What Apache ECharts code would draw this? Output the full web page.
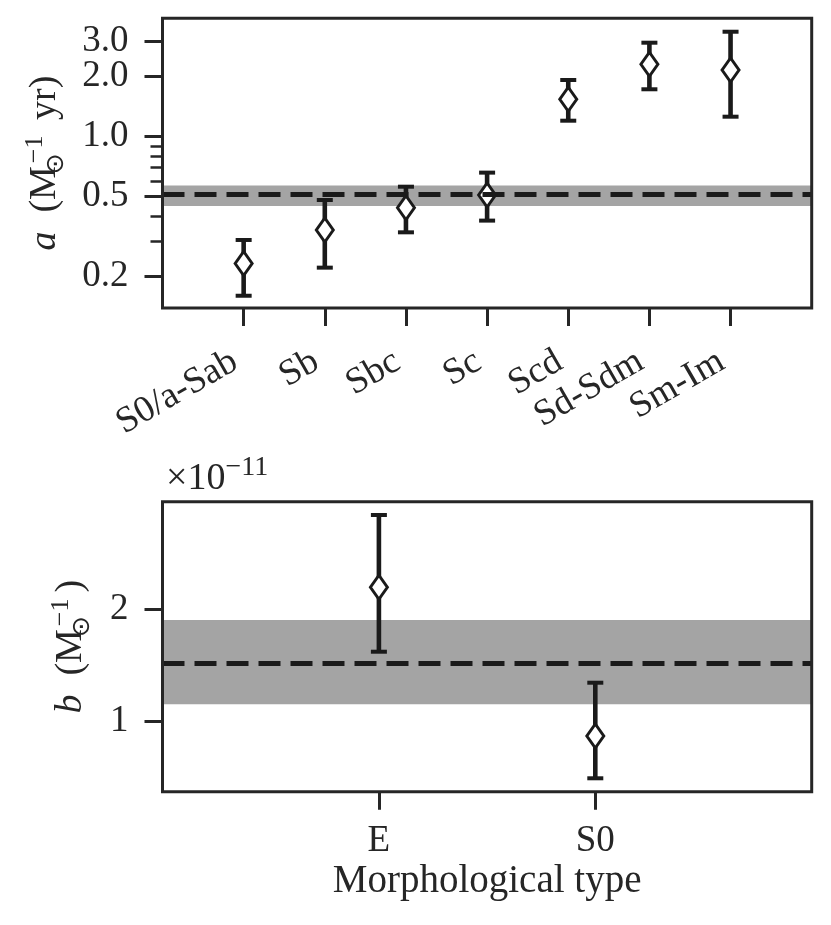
<!DOCTYPE html>
<html><head><meta charset="utf-8">
<script src="https://cdn.jsdelivr.net/npm/echarts@6/dist/echarts.min.js"></script>
<style>html,body{margin:0;padding:0;background:#fff}#c{width:831px;height:925px}</style>
</head><body><div id="c"></div>
<script>
// ---- top panel data (a, log scale) ----
const topCategories = ['S0/a-Sab', 'Sb', 'Sbc', 'Sc', 'Scd', 'Sd-Sdm', 'Sm-Im'];
const topValues = [0.231, 0.340, 0.440, 0.510, 1.54, 2.31, 2.16];
const topLower = [0.159, 0.220, 0.331, 0.379, 1.203, 1.730, 1.260];
const topUpper = [0.303, 0.481, 0.561, 0.660, 1.926, 2.964, 3.365];
const topBand = [0.449, 0.568];
const topLine = 0.514;
const topTickValues = [0.2, 0.5, 1, 2, 3];
const topTickLabels = ['0.2', '0.5', '1.0', '2.0', '3.0'];
const topMinorTicks = [0.3, 0.4, 0.6, 0.7, 0.8, 0.9];
const topRange = [0.138, 3.93];

// ---- bottom panel data (b, units of 1e-11) ----
const bottomCategories = ['E', 'S0'];
const bottomValues = [2.193, 0.873];
const bottomLower = [1.621, 0.498];
const bottomUpper = [2.834, 1.346];
const bottomBand = [1.154, 1.902];
const bottomLine = 1.518;
const bottomTickValues = [1, 2];
const bottomTickLabels = ['1', '2'];
const bottomRange = [0.379, 2.952];

const L = Math.log10;
const FONT = '"Liberation Serif", "DejaVu Serif", serif';
const TXT = '#262626';
const INK = '#1a1a1a';
const FS = 37;

const nameRich = {
  i: { fontFamily: FONT, fontSize: 38, fontStyle: 'italic', color: TXT, lineHeight: 46, verticalAlign: 'middle' },
  n: { fontFamily: FONT, fontSize: 38, color: TXT, lineHeight: 46, verticalAlign: 'middle' },
  sub: { fontFamily: '"DejaVu Sans", sans-serif', fontSize: 25, color: TXT, lineHeight: 22, verticalAlign: 'bottom', width: 1, align: 'left', padding: [0, 0, 0, 2] },
  sup: { fontFamily: FONT, fontSize: 26, color: TXT, lineHeight: 25, verticalAlign: 'top', padding: [0, 6, 0, 0] }
};

function errRender(params, api) {
  const x = api.value(0), lo = api.value(1), hi = api.value(2);
  const a = api.coord([x, lo]), b = api.coord([x, hi]);
  const cap = 8;
  const st = { stroke: INK, lineWidth: 4.6 };
  const st2 = { stroke: INK, lineWidth: 4 };
  return { type: 'group', children: [
    { type: 'line', shape: { x1: a[0], y1: a[1], x2: b[0], y2: b[1] }, style: st },
    { type: 'line', shape: { x1: a[0] - cap, y1: a[1], x2: a[0] + cap, y2: a[1] }, style: st2 },
    { type: 'line', shape: { x1: b[0] - cap, y1: b[1], x2: b[0] + cap, y2: b[1] }, style: st2 }
  ] };
}

const tickStyle = { show: true, length: 18, lineStyle: { color: TXT, width: 3 } };
const labelBase = { fontFamily: FONT, fontSize: FS, color: TXT, hideOverlap: false, lineHeight: 28, showMinLabel: true, showMaxLabel: true };
const noLine = { show: false, onZero: false };

function topLabel(v) {
  const i = topTickValues.findIndex(t => Math.abs(L(t) - v) < 1e-6);
  return i >= 0 ? topTickLabels[i] : '';
}
// split the major ticks over two overlapping axes so that close labels are never dropped
function majorAxis(parity) {
  const vals = topTickValues.filter((t, i) => i % 2 === parity).map(L);
  return { type: 'value', gridIndex: 0, min: L(topRange[0]), max: L(topRange[1]), position: 'left', offset: 0,
    axisLine: noLine, splitLine: { show: false },
    axisTick: Object.assign({ customValues: vals }, tickStyle),
    axisLabel: Object.assign({}, labelBase, { customValues: vals, margin: 34, formatter: topLabel }) };
}

const yTopMain = majorAxis(0);
yTopMain.name = '{i|a}{n|  (M}{sub|⊙}{sup|−1}{n| yr)}';
yTopMain.nameLocation = 'middle';
yTopMain.nameRotate = 90;
yTopMain.nameGap = 94;
yTopMain.nameTextStyle = { rich: nameRich };

const option = {
  animation: false,
  textStyle: { fontFamily: FONT },
  grid: [
    { left: 162.5, top: 18.3, width: 649.2, height: 289.7, show: true, borderColor: TXT, borderWidth: 3, backgroundColor: 'transparent', z: 10 },
    { left: 162.5, top: 501.7, width: 649.2, height: 290, show: true, borderColor: TXT, borderWidth: 3, backgroundColor: 'transparent', z: 10 }
  ],
  xAxis: [
    { type: 'value', gridIndex: 0, min: -1, max: 7, position: 'bottom',
      axisLine: noLine, splitLine: { show: false },
      axisTick: Object.assign({ customValues: topCategories.map((c, i) => i) }, tickStyle),
      axisLabel: Object.assign({}, labelBase, { customValues: topCategories.map((c, i) => i), rotate: 30, margin: 46,
        padding: [0, 10, 0, 0], lineHeight: 40,
        formatter: v => topCategories[Math.round(v)] }) },
    { type: 'value', gridIndex: 1, min: -1, max: 2, position: 'bottom',
      axisLine: noLine, splitLine: { show: false },
      axisTick: Object.assign({ customValues: bottomCategories.map((c, i) => i) }, tickStyle),
      axisLabel: Object.assign({}, labelBase, { customValues: bottomCategories.map((c, i) => i), margin: 30, lineHeight: 40,
        formatter: v => bottomCategories[Math.round(v)] }),
      name: 'Morphological type', nameLocation: 'middle', nameGap: 70,
      nameTextStyle: { fontFamily: FONT, fontSize: 39, color: TXT } }
  ],
  yAxis: [
    yTopMain,
    majorAxis(1),
    { type: 'value', gridIndex: 0, min: L(topRange[0]), max: L(topRange[1]), position: 'left', offset: 0,
      axisLine: noLine, splitLine: { show: false }, axisLabel: { show: false },
      axisTick: { show: true, length: 12, customValues: topMinorTicks.map(L), lineStyle: { color: TXT, width: 2.5 } } },
    { type: 'value', gridIndex: 1, min: bottomRange[0], max: bottomRange[1], position: 'left',
      axisLine: noLine, splitLine: { show: false },
      axisTick: Object.assign({ customValues: bottomTickValues }, tickStyle),
      axisLabel: Object.assign({}, labelBase, { customValues: bottomTickValues, margin: 34,
        formatter: v => { const i = bottomTickValues.indexOf(Math.round(v)); return i >= 0 ? bottomTickLabels[i] : ''; } }),
      name: '{i|b}{n|  (M}{sub|⊙}{sup|−1}{n|)}', nameLocation: 'middle', nameRotate: 90, nameGap: 68,
      nameTextStyle: { rich: nameRich } }
  ],
  graphic: [
    { type: 'text', left: 166, top: 454, z: 20, style: { text: '{m|×10}{s|−11}', rich: {
      m: { fontFamily: FONT, fontSize: 38, fill: TXT, lineHeight: 44, verticalAlign: 'bottom' },
      s: { fontFamily: FONT, fontSize: 28, fill: TXT, lineHeight: 28, verticalAlign: 'top' } } } }
  ],
  series: [
    // top panel
    { type: 'line', xAxisIndex: 0, yAxisIndex: 0, data: [], z: 1, silent: true,
      markArea: { silent: true, itemStyle: { color: '#a4a4a4', opacity: 1 },
        data: [[{ yAxis: L(topBand[0]) }, { yAxis: L(topBand[1]) }]] } },
    { type: 'line', xAxisIndex: 0, yAxisIndex: 0, data: [], z: 2, silent: true,
      markLine: { silent: true, symbol: ['none', 'none'], label: { show: false },
        lineStyle: { color: INK, width: 5, type: [22, 10] }, data: [{ yAxis: L(topLine) }] } },
    { type: 'custom', xAxisIndex: 0, yAxisIndex: 0, z: 3, silent: true, renderItem: errRender,
      encode: { x: 0, y: [1, 2] },
      data: topLower.map((lo, i) => [i, L(lo), L(topUpper[i])]) },
    { type: 'scatter', xAxisIndex: 0, yAxisIndex: 0, z: 4, silent: true,
      symbol: 'diamond', symbolSize: [17, 24],
      itemStyle: { color: '#ffffff', borderColor: INK, borderWidth: 3, opacity: 1 },
      data: topValues.map((v, i) => [i, L(v)]) },
    // bottom panel
    { type: 'line', xAxisIndex: 1, yAxisIndex: 3, data: [], z: 1, silent: true,
      markArea: { silent: true, itemStyle: { color: '#a4a4a4', opacity: 1 },
        data: [[{ yAxis: bottomBand[0] }, { yAxis: bottomBand[1] }]] } },
    { type: 'line', xAxisIndex: 1, yAxisIndex: 3, data: [], z: 2, silent: true,
      markLine: { silent: true, symbol: ['none', 'none'], label: { show: false },
        lineStyle: { color: INK, width: 5, type: [22, 10] }, data: [{ yAxis: bottomLine }] } },
    { type: 'custom', xAxisIndex: 1, yAxisIndex: 3, z: 3, silent: true, renderItem: errRender,
      encode: { x: 0, y: [1, 2] },
      data: bottomLower.map((lo, i) => [i, lo, bottomUpper[i]]) },
    { type: 'scatter', xAxisIndex: 1, yAxisIndex: 3, z: 4, silent: true,
      symbol: 'diamond', symbolSize: [17, 24],
      itemStyle: { color: '#ffffff', borderColor: INK, borderWidth: 3, opacity: 1 },
      data: bottomValues.map((v, i) => [i, v]) }
  ]
};

const chart = echarts.init(document.getElementById('c'), null, { renderer: 'canvas' });
chart.setOption(option);
</script>
</body></html>
